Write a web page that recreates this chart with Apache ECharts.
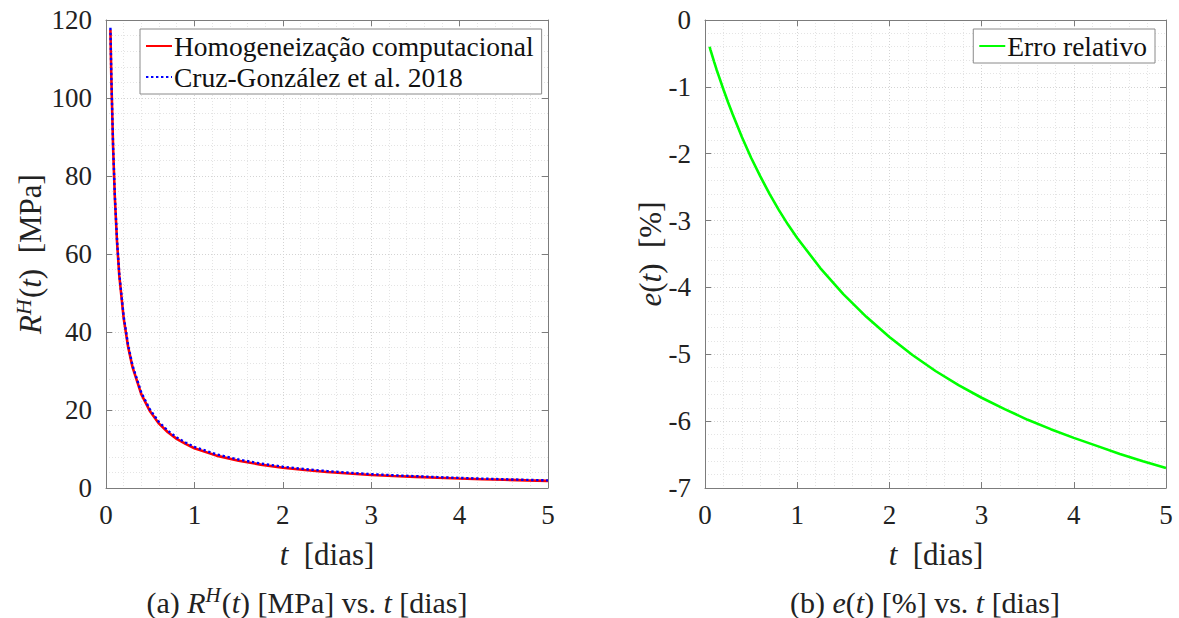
<!DOCTYPE html>
<html>
<head>
<meta charset="utf-8">
<script src="https://cdn.jsdelivr.net/npm/echarts@6/dist/echarts.min.js"></script>
<style>
  html, body { margin: 0; padding: 0; background: #fff; }
  #chart { width: 1179px; height: 618px; }
</style>
</head>
<body>
<div id="chart"></div>
<script>
// Tempo [dias]
const dias = [0.05, 0.06, 0.08, 0.1, 0.125, 0.15, 0.2, 0.25, 0.3, 0.4, 0.5, 0.6, 0.7, 0.8, 0.9,
              1.0, 1.25, 1.5, 1.75, 2.0, 2.25, 2.5, 2.75, 3.0, 3.25, 3.5, 3.75, 4.0, 4.25, 4.5, 4.75, 5.0];
// R^H(t) [MPa] - homogeneização computacional
const homogeneizacao = [117.5, 105.5, 87.5, 74.5, 63.0, 54.5, 43.5, 36.2, 31.0, 24.0, 19.6, 16.5, 14.3, 12.6, 11.3,
                        10.2, 8.3, 7.0, 6.0, 5.2, 4.6, 4.1, 3.7, 3.35, 3.08, 2.85, 2.62, 2.42, 2.25, 2.1, 1.95, 1.82];
// R^H(t) [MPa] - Cruz-González et al. 2018
const cruzGonzalez = [118.0, 106.0, 88.0, 75.0, 63.5, 55.0, 44.0, 36.65, 31.44, 24.43, 20.0, 16.9, 14.68, 12.97, 11.66,
                      10.54, 8.62, 7.3, 6.28, 5.46, 4.84, 4.33, 3.91, 3.55, 3.27, 3.03, 2.79, 2.58, 2.4, 2.25, 2.09, 1.95];
// e(t) [%] - erro relativo
const erroRelativo = [-0.40, -0.45, -0.54, -0.63, -0.74, -0.84, -1.04, -1.23, -1.41, -1.75, -2.06, -2.34, -2.60, -2.84, -3.06,
                      -3.26, -3.71, -4.10, -4.44, -4.74, -5.01, -5.25, -5.46, -5.65, -5.82, -5.98, -6.12, -6.25, -6.37, -6.49, -6.60, -6.70];

// Marcas dos eixos
const tTicks = [0, 1, 2, 3, 4, 5];
const rTicks = [0, 20, 40, 60, 80, 100, 120];
const eTicks = [-7, -6, -5, -4, -3, -2, -1, 0];

const FONT = '"Liberation Serif", "DejaVu Serif", serif';
const TXT = '#222';
const BOX = '#7c7c7c';

const chart = echarts.init(document.getElementById('chart'), null, { renderer: 'svg' });

const pairs = (ys) => dias.map((t, i) => [t, ys[i]]);

function gridLine(color) {
  return { show: true, lineStyle: { color: color, width: 1, type: [1, 2] } };
}

function mainAxis(gridIndex, ticks, position) {
  return {
    gridIndex: gridIndex,
    type: 'value',
    position: position,
    min: ticks[0],
    max: ticks[ticks.length - 1],
    interval: ticks[1] - ticks[0],
    axisLine: { show: true, onZero: false, lineStyle: { color: BOX, width: 1 } },
    axisTick: { show: true, inside: true, length: 6, lineStyle: { color: BOX } },
    axisLabel: { show: true, color: TXT, fontFamily: FONT, fontSize: 27, margin: position === 'bottom' ? 13 : 14 },
    splitLine: gridLine('#d4d4d4'),
    minorTick: { show: false, splitNumber: 5 },
    minorSplitLine: gridLine('#e4e4e4')
  };
}

function boxAxis(gridIndex, ticks, position) {
  return {
    gridIndex: gridIndex,
    type: 'value',
    position: position,
    min: ticks[0],
    max: ticks[ticks.length - 1],
    interval: ticks[1] - ticks[0],
    axisLine: { show: true, onZero: false, lineStyle: { color: BOX, width: 1 } },
    axisTick: { show: true, inside: true, length: 6, lineStyle: { color: BOX } },
    axisLabel: { show: false },
    splitLine: { show: false }
  };
}

const legendBase = {
  orient: 'vertical',
  backgroundColor: '#fff',
  borderColor: '#8a8a8a',
  borderWidth: 1,
  borderRadius: 0,
  padding: [3, 8, 3, 5],
  itemGap: 3,
  itemWidth: 26,
  itemHeight: 14,
  itemStyle: { opacity: 0 },
  textStyle: { fontFamily: FONT, fontSize: 27.5, color: '#111', padding: [0, 0, 0, -3] },
  selectedMode: false
};

const rich = {
  n: { fontFamily: FONT, fontSize: 31, color: TXT, lineHeight: 36 },
  i: { fontFamily: FONT, fontSize: 31, color: TXT, fontStyle: 'italic', lineHeight: 36 },
  s: { fontFamily: FONT, fontSize: 22, color: TXT, fontStyle: 'italic', lineHeight: 36, verticalAlign: 'top', padding: [0, 1, 12, 0] },
  cn: { fontFamily: FONT, fontSize: 30, color: TXT, lineHeight: 35 },
  ci: { fontFamily: FONT, fontSize: 30, color: TXT, fontStyle: 'italic', lineHeight: 35 },
  cs: { fontFamily: FONT, fontSize: 21, color: TXT, fontStyle: 'italic', lineHeight: 35, verticalAlign: 'top', padding: [0, 1, 12, 0] }
};

function label(x, y, text, rotation) {
  return {
    type: 'text', x: x, y: y, rotation: rotation || 0, z: 10,
    style: { text: text, rich: rich, align: 'center', verticalAlign: 'middle', fill: TXT }
  };
}

chart.setOption({
  animation: false,
  grid: [
    { left: 106, top: 20, width: 442, height: 468 },
    { left: 705, top: 20, width: 461, height: 468 }
  ],
  xAxis: [
    mainAxis(0, tTicks, 'bottom'),
    boxAxis(0, tTicks, 'top'),
    mainAxis(1, tTicks, 'bottom'),
    boxAxis(1, tTicks, 'top')
  ],
  yAxis: [
    mainAxis(0, rTicks, 'left'),
    boxAxis(0, rTicks, 'right'),
    mainAxis(1, eTicks, 'left'),
    boxAxis(1, eTicks, 'right')
  ],
  legend: [
    Object.assign({}, legendBase, { left: 140, top: 29, data: ['Homogeneização computacional', 'Cruz-González et al. 2018'] }),
    Object.assign({}, legendBase, { right: 24, top: 29, data: ['Erro relativo'] })
  ],
  series: [
    {
      name: 'Homogeneização computacional', type: 'line', xAxisIndex: 0, yAxisIndex: 0,
      data: pairs(homogeneizacao), symbol: 'none', smooth: false,
      lineStyle: { color: '#ff0000', width: 2.6 }, itemStyle: { color: '#ff0000' }
    },
    {
      name: 'Cruz-González et al. 2018', type: 'line', xAxisIndex: 0, yAxisIndex: 0,
      data: pairs(cruzGonzalez), symbol: 'none', smooth: false,
      lineStyle: { color: '#0000ff', width: 2.4, type: [2.4, 2.6] }, itemStyle: { color: '#0000ff' }
    },
    {
      name: 'Erro relativo', type: 'line', xAxisIndex: 2, yAxisIndex: 2,
      data: pairs(erroRelativo), symbol: 'none', smooth: false,
      lineStyle: { color: '#00ff00', width: 2.6 }, itemStyle: { color: '#00ff00' }
    }
  ],
  graphic: [
    label(30, 254, '{i|R}{s|H}{n|(}{i|t}{n|)  [MPa]}', Math.PI / 2),
    label(327, 554, '{i|t}{n|  [dias]}'),
    label(650, 254, '{i|e}{n|(}{i|t}{n|)  [%]}', Math.PI / 2),
    label(936, 554, '{i|t}{n|  [dias]}'),
    label(307, 602, '{cn|(a) }{ci|R}{cs|H}{cn|(}{ci|t}{cn|) [MPa] vs. }{ci|t}{cn| [dias]}'),
    label(925, 602, '{cn|(b) }{ci|e}{cn|(}{ci|t}{cn|) [%] vs. }{ci|t}{cn| [dias]}')
  ]
});
</script>
</body>
</html>
